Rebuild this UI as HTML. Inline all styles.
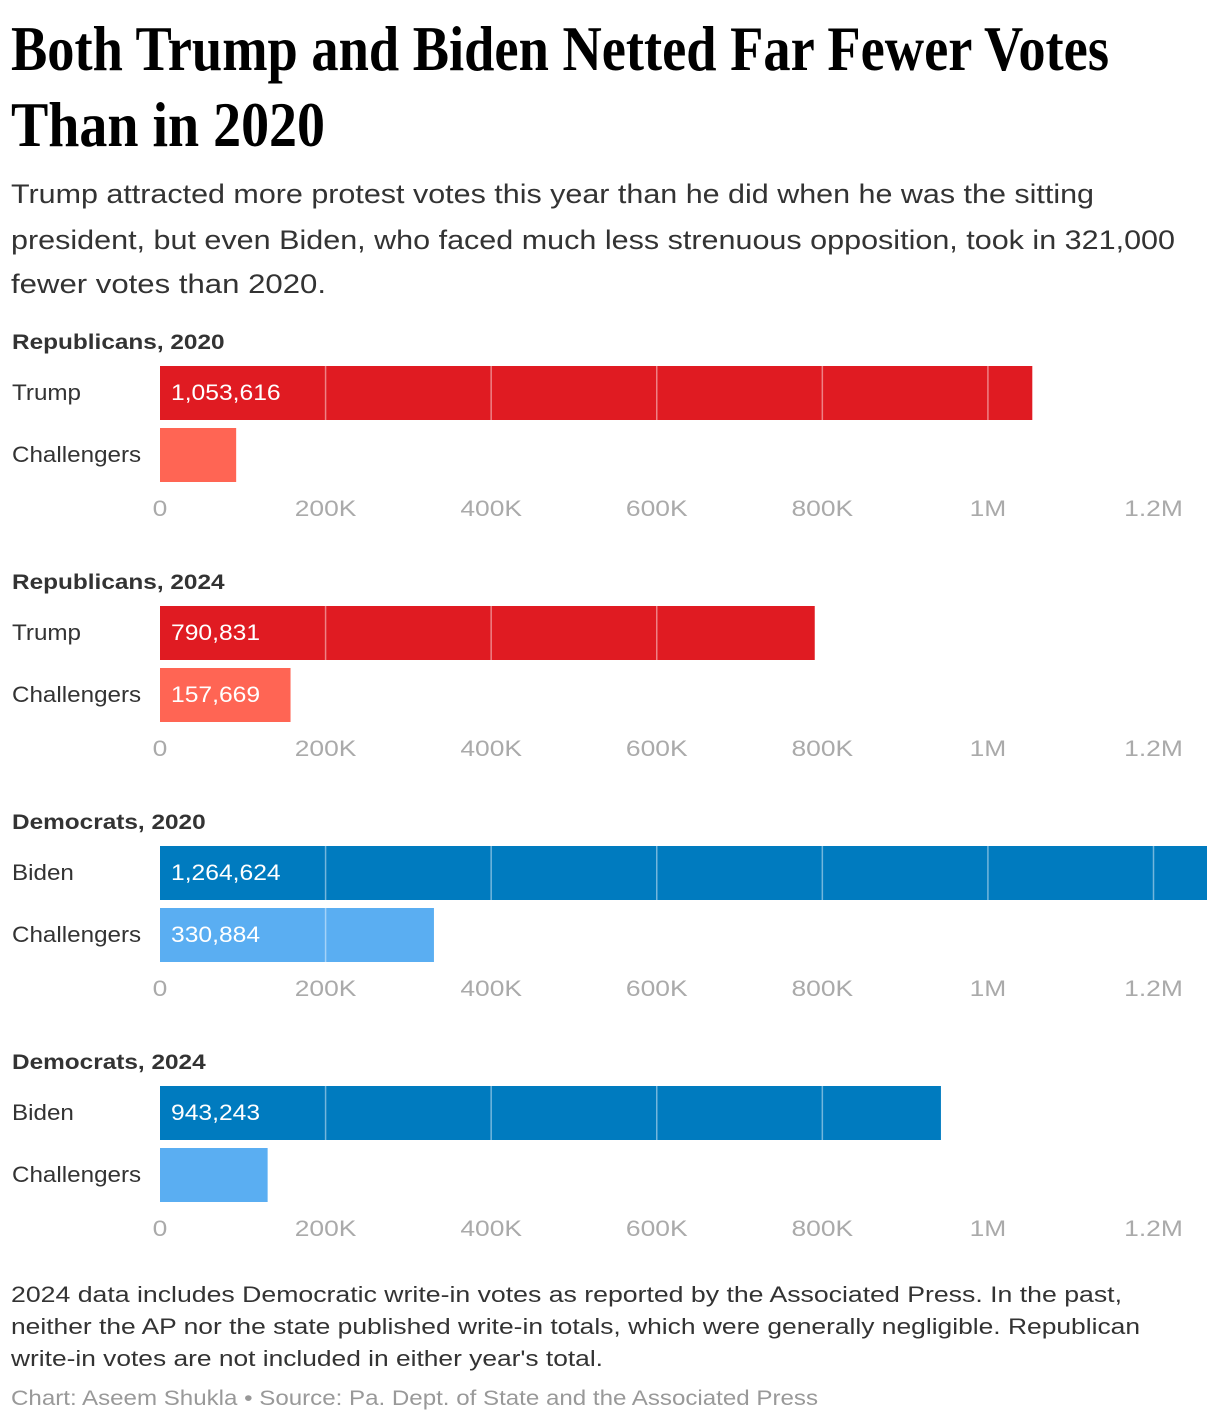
<!DOCTYPE html>
<html><head><meta charset="utf-8">
<style>
body{margin:0;background:#fff;width:1220px;height:1422px;overflow:hidden;font-family:"Liberation Sans",sans-serif;position:relative}
</style></head><body>
<svg style="position:absolute;left:0;top:0" width="1220" height="1422" font-family="Liberation Sans">
<text x="11" y="70" font-family="Liberation Serif" font-weight="bold" font-size="64" textLength="1098" lengthAdjust="spacingAndGlyphs">Both Trump and Biden Netted Far Fewer Votes</text>
<text x="11" y="146" font-family="Liberation Serif" font-weight="bold" font-size="64" textLength="314" lengthAdjust="spacingAndGlyphs">Than in 2020</text>
<g font-size="27" fill="#333">
<text x="11" y="203" textLength="1083" lengthAdjust="spacingAndGlyphs">Trump attracted more protest votes this year than he did when he was the sitting</text>
<text x="11" y="249" textLength="1164" lengthAdjust="spacingAndGlyphs">president, but even Biden, who faced much less strenuous opposition, took in 321,000</text>
<text x="11" y="293" textLength="315" lengthAdjust="spacingAndGlyphs">fewer votes than 2020.</text>
</g>
<g font-size="22.5" fill="#333">
<text x="11" y="1302" textLength="1111" lengthAdjust="spacingAndGlyphs">2024 data includes Democratic write-in votes as reported by the Associated Press. In the past,</text>
<text x="11" y="1334" textLength="1129" lengthAdjust="spacingAndGlyphs">neither the AP nor the state published write-in totals, which were generally negligible. Republican</text>
<text x="11" y="1366" textLength="592" lengthAdjust="spacingAndGlyphs">write-in votes are not included in either year's total.</text>
</g>
<text x="11" y="1405" font-size="21" fill="#999" textLength="807" lengthAdjust="spacingAndGlyphs">Chart: Aseem Shukla • Source: Pa. Dept. of State and the Associated Press</text>
</svg>
<svg id="chart" style="position:absolute;left:0;top:320px" width="1220" height="940" font-family="Liberation Sans"></svg>
<script>
const panelTitles=["Republicans, 2020","Republicans, 2024","Democrats, 2020","Democrats, 2024"];
const mainLabels=["Trump","Trump","Biden","Biden"];
const mainValues=[1053616,790831,1264624,943243];
const challengerValues=[92000,157669,330884,130000];
const showChallengerLabel=[false,true,true,false];
const ticks=[0,200000,400000,600000,800000,1000000,1200000];
const tickLabels=["0","200K","400K","600K","800K","1M","1.2M"];
const mainColors=["#e01b22","#e01b22","#007bbf","#007bbf"];
const chColors=["#ff6554","#ff6554","#5aaef2","#5aaef2"];
const svg=document.getElementById('chart');
const NS="http://www.w3.org/2000/svg";
const x=v=>160+v*(1153.5-160)/1200000;
function mk(tag,attrs,txt){const e=document.createElementNS(NS,tag);for(const k in attrs)e.setAttribute(k,attrs[k]);if(txt!=null)e.textContent=txt;svg.appendChild(e);return e;}
function widen(e,k){const w=e.getComputedTextLength();e.setAttribute('textLength',w*k);e.setAttribute('lengthAdjust','spacingAndGlyphs');}
panelTitles.forEach((pt,i)=>{
  const y0=i*240;
  let e=mk('text',{x:12,y:y0+29,'font-size':21,'font-weight':'bold',fill:'#333'},pt);
  
  
  widen(e,1.16);
  const rows=[[mainLabels[i],mainValues[i],mainColors[i],true],["Challengers",challengerValues[i],chColors[i],showChallengerLabel[i]]];
  rows.forEach((r,j)=>{
    const by=y0+46+j*62;
    e=mk('text',{x:12,y:by+34,'font-size':22,fill:'#333'},r[0]);
    
    
    widen(e,1.1);
    e=mk('rect',{x:x(0),y:by,width:x(r[1])-x(0),height:54,fill:r[2]});
    
    
    ticks.slice(1).forEach(t=>{ if(x(t)<x(r[1])){const l=mk('line',{x1:x(t),x2:x(t),y1:by,y2:by+54,stroke:'rgba(255,255,255,0.45)','stroke-width':1.5});}});
    if(r[3]){e=mk('text',{x:171,y:by+34,'font-size':22,fill:'#fff'},r[1].toLocaleString('en-US'));
      
      
      widen(e,1.12);}
  });
  ticks.forEach((t,k)=>{
    e=mk('text',{x:x(t),y:y0+196,'font-size':22,fill:'#aaa','text-anchor':'middle'},tickLabels[k]);
    
    
    widen(e,1.2);
  });
});
</script>
</body></html>
